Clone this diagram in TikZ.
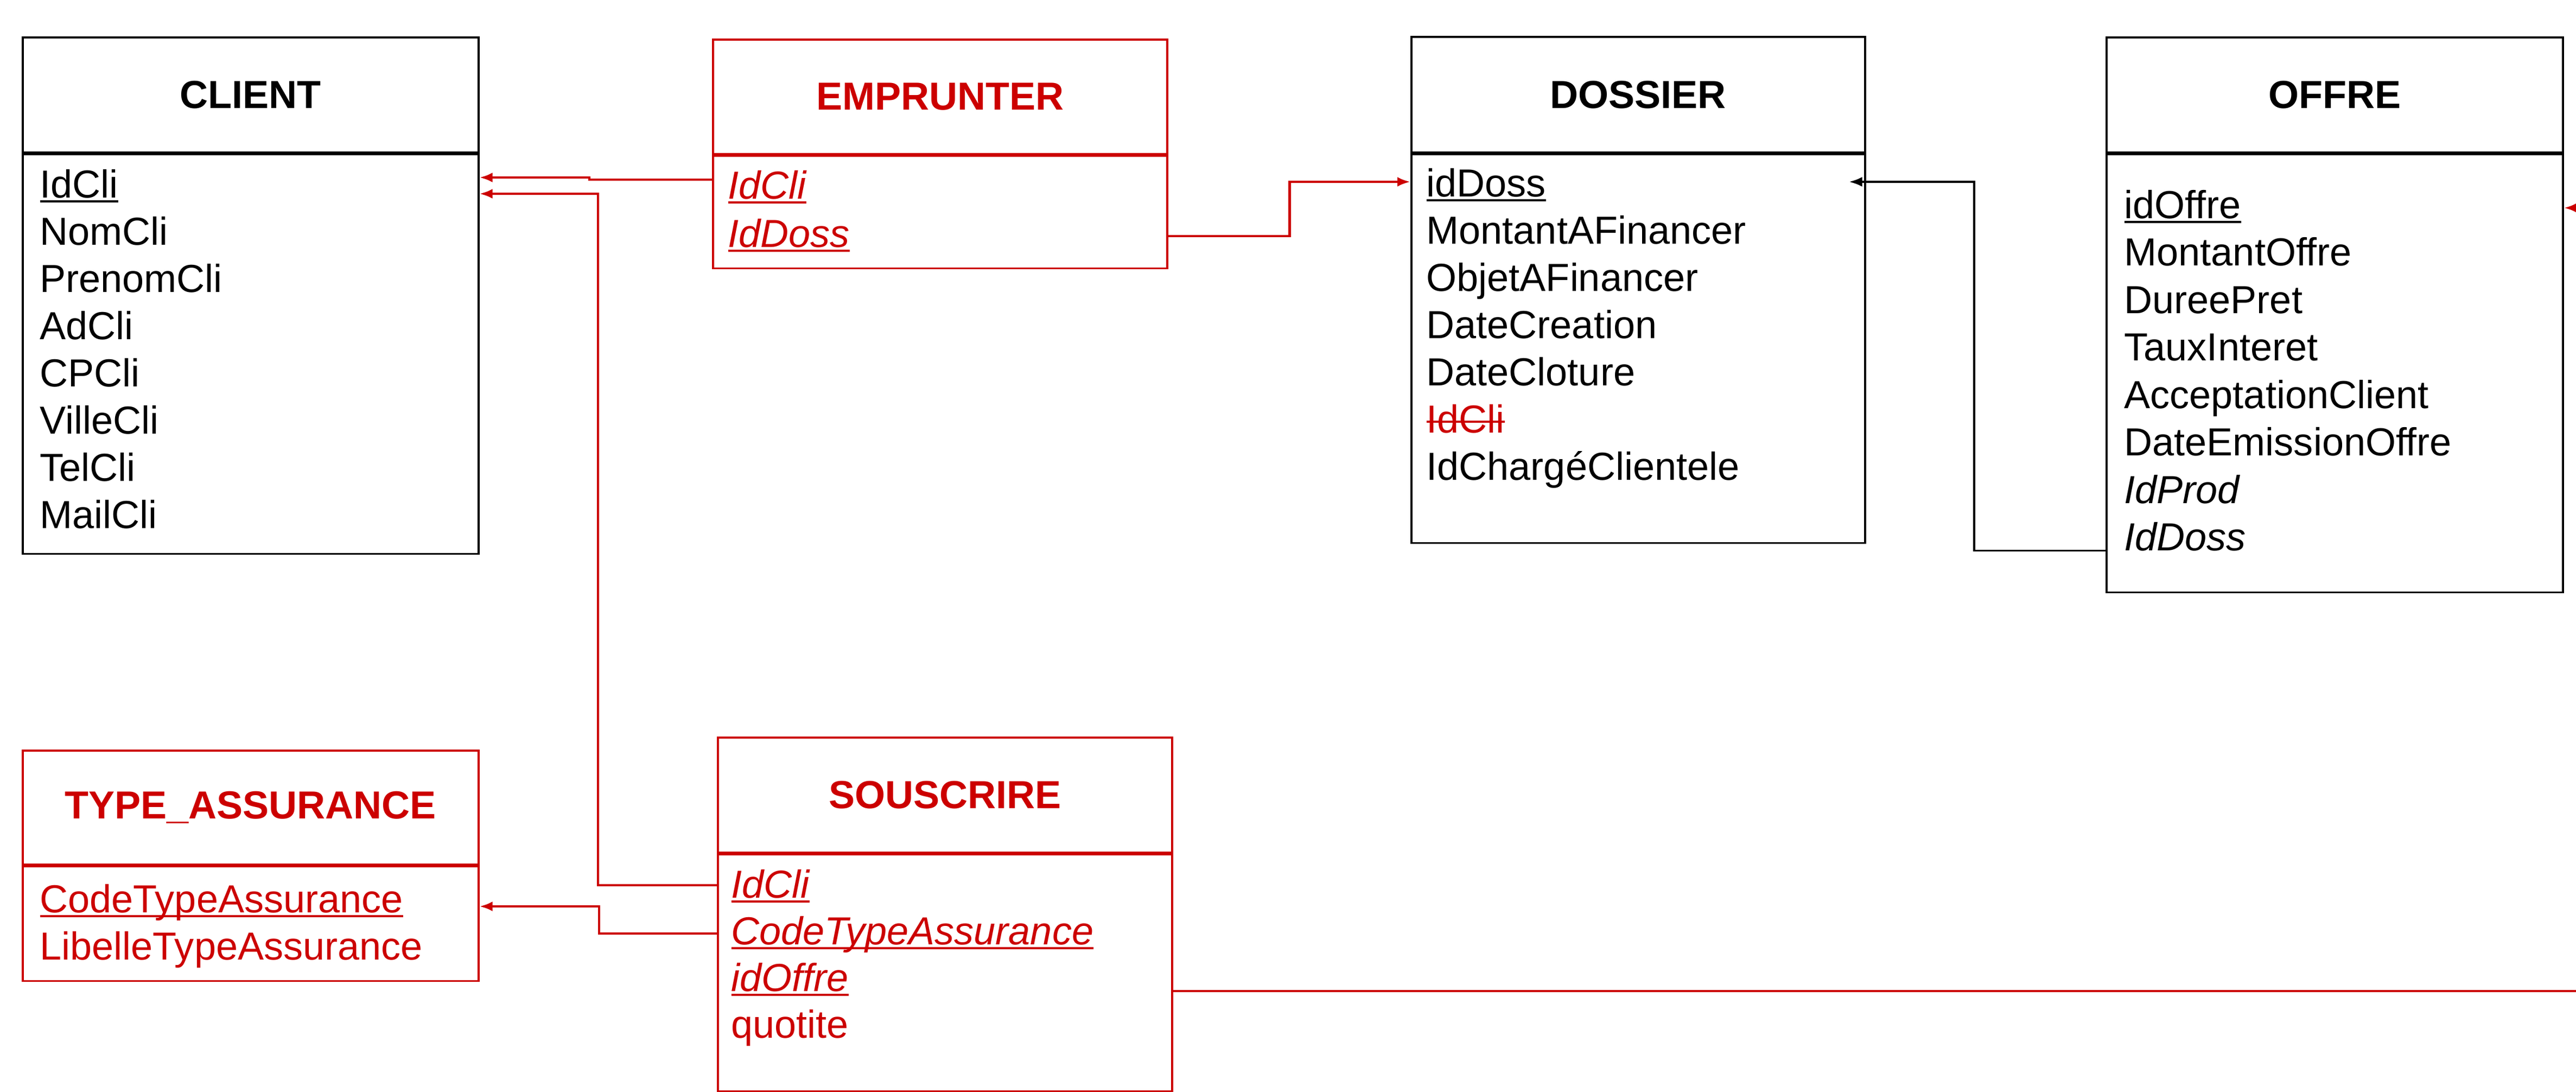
\documentclass[tikz,border=0pt]{standalone}
\usepackage{fontspec}
\setmainfont{Liberation Sans}
\usetikzlibrary{arrows.meta,calc}
\definecolor{erred}{RGB}{204,0,0}
\newcommand{\keyline}[1]{\setbox0\hbox{#1}\rlap{\rule[-2.6pt]{\wd0}{1.1pt}}\box0}
\newcommand{\strikeout}[1]{\setbox0\hbox{#1}\rlap{\rule[5.2pt]{\wd0}{1pt}}\box0}
\tikzset{
  tabhead/.style={draw, line width=1pt, anchor=north west, inner sep=0pt, minimum height=2.12cm, font=\fontsize{20.5}{24}\selectfont\bfseries},
  tabbody/.style={draw, line width=1pt, anchor=north west, inner sep=0pt},
  attr/.style={anchor=base west, inner sep=0pt, font=\fontsize{20.5}{24}\selectfont},
  assoc/.style={draw=erred, text=erred},
  redlink/.style={erred, line width=1.4pt, -{Latex[length=2.4mm,width=1.8mm]}},
  blacklink/.style={black, line width=1pt, -{Latex[length=2.4mm,width=1.8mm]}}
}
\begin{document}
\begin{tikzpicture}
    \useasboundingbox (0,0) rectangle (47.47,-20.12);
    \clip (0,0) rectangle (47.47,-20.12);
    \node[tabhead, minimum width=8.4cm] (client) at (0.40,-0.67) {CLIENT};
    \node[tabbody, minimum width=8.4cm, minimum height=7.36cm] (clientBody) at (client.south west) {};
    \node[attr] (cliId) at (0.73,-3.64) {\keyline{IdCli}};
    \node[attr] (cliNom) at (0.73,-4.51) {NomCli};
    \node[attr] (cliPrenom) at (0.73,-5.38) {PrenomCli};
    \node[attr] (cliAd) at (0.73,-6.25) {AdCli};
    \node[attr] (cliCP) at (0.73,-7.12) {CPCli};
    \node[attr] (cliVille) at (0.73,-7.99) {VilleCli};
    \node[attr] (cliTel) at (0.73,-8.86) {TelCli};
    \node[attr] (cliMail) at (0.73,-9.73) {MailCli};
    \node[tabhead, assoc, minimum width=8.37cm, minimum height=2.11cm] (emprunter) at (13.12,-0.71) {EMPRUNTER};
    \node[tabbody, draw=erred, minimum width=8.37cm, minimum height=2.07cm] (empBody) at (emprunter.south west) {};
    \node[attr, text=erred] (empCli) at (13.41,-3.66) {\keyline{\itshape IdCli}};
    \node[attr, text=erred] (empDoss) at (13.41,-4.55) {\keyline{\itshape IdDoss}};
    \node[tabhead, minimum width=8.36cm, minimum height=2.13cm] (dossier) at (25.99,-0.66) {DOSSIER};
    \node[tabbody, minimum width=8.36cm, minimum height=7.16cm] (dossierBody) at (dossier.south west) {};
    \node[attr] (dosId) at (26.28,-3.62) {\keyline{idDoss}};
    \node[attr] (dosMontant) at (26.28,-4.49) {MontantAFinancer};
    \node[attr] (dosObjet) at (26.28,-5.36) {ObjetAFinancer};
    \node[attr] (dosCreation) at (26.28,-6.23) {DateCreation};
    \node[attr] (dosCloture) at (26.28,-7.10) {DateCloture};
    \node[attr, text=erred] (dosCli) at (26.28,-7.97) {\strikeout{IdCli}};
    \node[attr] (dosCharge) at (26.28,-8.84) {IdChargéClientele};
    \node[tabhead, minimum width=8.41cm] (offre) at (38.80,-0.67) {OFFRE};
    \node[tabbody, minimum width=8.41cm, minimum height=8.07cm] (offreBody) at (offre.south west) {};
    \node[attr] (offId) at (39.14,-4.02) {\keyline{idOffre}};
    \node[attr] (offMontant) at (39.14,-4.895) {MontantOffre};
    \node[attr] (offDuree) at (39.14,-5.77) {DureePret};
    \node[attr] (offTaux) at (39.14,-6.645) {TauxInteret};
    \node[attr] (offAccept) at (39.14,-7.52) {AcceptationClient};
    \node[attr] (offDate) at (39.14,-8.395) {DateEmissionOffre};
    \node[attr] (offProd) at (39.14,-9.27) {\itshape IdProd};
    \node[attr] (offDoss) at (39.14,-10.145) {\itshape IdDoss};
    \node[tabhead, assoc, minimum width=8.4cm, minimum height=2.10cm] (typeassur) at (0.40,-13.81) {TYPE\_ASSURANCE};
    \node[tabbody, draw=erred, minimum width=8.4cm, minimum height=2.11cm] (typeBody) at (typeassur.south west) {};
    \node[attr, text=erred] (taCode) at (0.73,-16.81) {\keyline{CodeTypeAssurance}};
    \node[attr, text=erred] (taLibelle) at (0.73,-17.68) {LibelleTypeAssurance};
    \node[tabhead, assoc, minimum width=8.37cm] (souscrire) at (13.21,-13.57) {SOUSCRIRE};
    \node[tabbody, draw=erred, minimum width=8.37cm, minimum height=4.36cm] (souBody) at (souscrire.south west) {};
    \node[attr, text=erred] (souCli) at (13.47,-16.54) {\keyline{\itshape IdCli}};
    \node[attr, text=erred] (souCode) at (13.47,-17.40) {\keyline{\itshape CodeTypeAssurance}};
    \node[attr, text=erred] (souOff) at (13.47,-18.26) {\keyline{\itshape idOffre}};
    \node[attr, text=erred] (souQuot) at (13.47,-19.12) {quotite};
    \draw[redlink] ($(empCli.base -| empBody.west)+(0,0.35)$) -- ++(-2.26,0) |- ($(cliId.base -| clientBody.east)+(0,0.37)$);
    \draw[redlink] ($(souCli.base -| souBody.west)+(0,0.23)$) -- ++(-2.19,0) |- ($(cliId.base -| clientBody.east)+(0,0.07)$);
    \draw[redlink] ($(souCode.base -| souBody.west)+(0,0.20)$) -- ++(-2.17,0) |- ($(taCode.base -| typeBody.east)+(0,0.11)$);
    \draw[redlink] ($(empDoss.base -| empBody.east)+(0,0.20)$) -- ++(2.24,0) |- ($(dosId.base -| dossierBody.west)+(0,0.27)$);
    \draw[blacklink] (offDoss.base -| offreBody.west) -- ++(-2.42,0) |- ($(dosId.base -| dossierBody.east)+(-0.31,0.27)$);
    \draw[redlink] (souOff.base -| souBody.east) -- ++(26.5,0) |- ($(offId.base -| offreBody.east)+(0,0.19)$);
  \end{tikzpicture}
\end{document}
